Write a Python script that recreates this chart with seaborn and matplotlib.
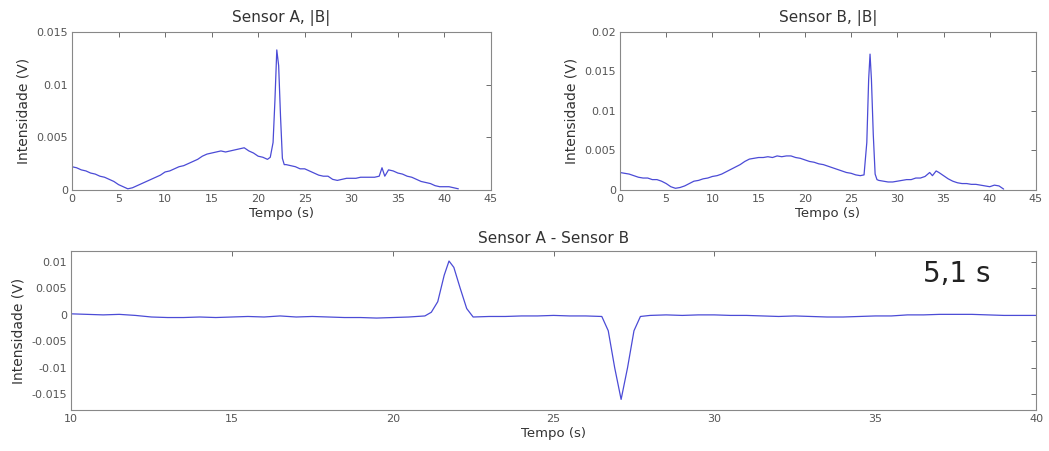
import pandas as pd
import matplotlib
matplotlib.use("Agg")
import matplotlib.pyplot as plt
import seaborn as sns

# Sensor A, |B|
tempo_a = [0, 0.5, 1, 1.5, 2, 2.5, 3, 3.5, 4, 4.5, 5, 5.5, 6, 6.5, 7, 7.5, 8, 8.5, 9, 9.5,
           10, 10.5, 11, 11.5, 12, 12.5, 13, 13.5, 14, 14.5, 15, 15.5, 16, 16.5, 17, 17.5,
           18, 18.5, 19, 19.5, 20, 20.5, 21, 21.3, 21.6, 21.8, 22.0, 22.2, 22.4, 22.6, 22.8,
           23, 23.5, 24, 24.5, 25, 25.5, 26, 26.5, 27, 27.5, 28, 28.5, 29, 29.5, 30, 30.5,
           31, 31.5, 32, 32.5, 33, 33.3, 33.6, 34, 34.5, 35, 35.5, 36, 36.5, 37, 37.5, 38,
           38.5, 39, 39.5, 40, 40.5, 41, 41.5]
sensor_a = [0.0022, 0.0021, 0.0019, 0.0018, 0.0016, 0.0015, 0.0013, 0.0012, 0.0010, 0.0008,
            0.0005, 0.0003, 0.0001, 0.0002, 0.0004, 0.0006, 0.0008, 0.0010, 0.0012, 0.0014,
            0.0017, 0.0018, 0.0020, 0.0022, 0.0023, 0.0025, 0.0027, 0.0029, 0.0032, 0.0034,
            0.0035, 0.0036, 0.0037, 0.0036, 0.0037, 0.0038, 0.0039, 0.0040, 0.0037, 0.0035,
            0.0032, 0.0031, 0.0029, 0.0031, 0.0045, 0.0085, 0.0133, 0.0118, 0.0070, 0.0030,
            0.0024, 0.0024, 0.0023, 0.0022, 0.0020, 0.0020, 0.0018, 0.0016, 0.0014, 0.0013,
            0.0013, 0.0010, 0.0009, 0.0010, 0.0011, 0.0011, 0.0011, 0.0012, 0.0012, 0.0012,
            0.0012, 0.0013, 0.0021, 0.0013, 0.0019, 0.0018, 0.0016, 0.0015, 0.0013, 0.0012,
            0.0010, 0.0008, 0.0007, 0.0006, 0.0004, 0.0003, 0.0003, 0.0003, 0.0002, 0.0001]

# Sensor B, |B|
tempo_b = [0, 0.5, 1, 1.5, 2, 2.5, 3, 3.5, 4, 4.5, 5, 5.5, 6, 6.5, 7, 7.5, 8, 8.5, 9, 9.5,
           10, 10.5, 11, 11.5, 12, 12.5, 13, 13.5, 14, 14.5, 15, 15.5, 16, 16.5, 17, 17.5,
           18, 18.5, 19, 19.5, 20, 20.5, 21, 21.5, 22, 22.5, 23, 23.5, 24, 24.5, 25, 25.5,
           26, 26.4, 26.7, 26.9, 27.05, 27.2, 27.4, 27.6, 27.8, 28, 28.5, 29, 29.5, 30, 30.5,
           31, 31.5, 32, 32.5, 33, 33.5, 33.8, 34.2, 34.5, 35, 35.5, 36, 36.5, 37, 37.5, 38,
           38.5, 39, 39.5, 40, 40.5, 41, 41.5]
sensor_b = [0.0022, 0.0021, 0.0020, 0.0018, 0.0016, 0.0015, 0.0015, 0.0013, 0.0013, 0.0011,
            0.0008, 0.0004, 0.0002, 0.0003, 0.0005, 0.0008, 0.0011, 0.0012, 0.0014, 0.0015,
            0.0017, 0.0018, 0.0020, 0.0023, 0.0026, 0.0029, 0.0032, 0.0036, 0.0039, 0.0040,
            0.0041, 0.0041, 0.0042, 0.0041, 0.0043, 0.0042, 0.0043, 0.0043, 0.0041, 0.0040,
            0.0038, 0.0036, 0.0035, 0.0033, 0.0032, 0.0030, 0.0028, 0.0026, 0.0024, 0.0022,
            0.0021, 0.0019, 0.0018, 0.0019, 0.0060, 0.0140, 0.0172, 0.0140, 0.0070, 0.0020,
            0.0013, 0.0012, 0.0011, 0.0010, 0.0010, 0.0011, 0.0012, 0.0013, 0.0013, 0.0015,
            0.0015, 0.0017, 0.0022, 0.0018, 0.0024, 0.0022, 0.0018, 0.0014, 0.0011, 0.0009,
            0.0008, 0.0008, 0.0007, 0.0007, 0.0006, 0.0005, 0.0004, 0.0006, 0.0005, 0.0001]

# Sensor A - Sensor B
tempo_d = [10, 10.5, 11, 11.5, 12, 12.5, 13, 13.5, 14, 14.5, 15, 15.5, 16, 16.5, 17, 17.5,
           18, 18.5, 19, 19.5, 20, 20.5, 21, 21.2, 21.4, 21.6, 21.75, 21.9, 22.1, 22.3, 22.5,
           23, 23.5, 24, 24.5, 25, 25.5, 26, 26.5, 26.7, 26.9, 27.1, 27.3, 27.5, 27.7, 28,
           28.5, 29, 29.5, 30, 30.5, 31, 31.5, 32, 32.5, 33, 33.5, 34, 34.5, 35, 35.5, 36,
           36.5, 37, 37.5, 38, 38.5, 39, 39.5, 40]
diferenca = [0.0002, 0.0001, 0.0000, 0.0001, -0.0001, -0.0004, -0.0005, -0.0005, -0.0004,
             -0.0005, -0.0004, -0.0003, -0.0004, -0.0002, -0.0004, -0.0003, -0.0004, -0.0005,
             -0.0005, -0.0006, -0.0005, -0.0004, -0.0002, 0.0005, 0.0025, 0.0075, 0.0102,
             0.0090, 0.0050, 0.0012, -0.0004, -0.0003, -0.0003, -0.0002, -0.0002, -0.0001,
             -0.0002, -0.0002, -0.0003, -0.0030, -0.0100, -0.0160, -0.0100, -0.0030, -0.0003,
             -0.0001, 0.0000, -0.0001, 0.0000, 0.0000, -0.0001, -0.0001, -0.0002, -0.0003,
             -0.0002, -0.0003, -0.0004, -0.0004, -0.0003, -0.0002, -0.0002, 0.0000, 0.0000,
             0.0001, 0.0001, 0.0001, 0.0000, -0.0001, -0.0001, -0.0001]

# eixos
ticks_a = [0, 0.005, 0.01, 0.015]
labels_a = ["0", "0.005", "0.01", "0.015"]
ticks_b = [0, 0.005, 0.01, 0.015, 0.02]
labels_b = ["0", "0.005", "0.01", "0.015", "0.02"]
ticks_d = [-0.015, -0.01, -0.005, 0, 0.005, 0.01]
labels_d = ["-0.015", "-0.01", "-0.005", "0", "0.005", "0.01"]

sns.set_style("white")
plt.rcParams['font.family'] = ['DejaVu Sans']

cor = '#4b4bd6'
fig = plt.figure(figsize=(10.49, 4.51), dpi=100)
ax1 = fig.add_axes([0.0686, 0.579, 0.3994, 0.350])
ax2 = fig.add_axes([0.591, 0.579, 0.3966, 0.350])
ax3 = fig.add_axes([0.0677, 0.091, 0.920, 0.3525])

df_a = pd.DataFrame({'t': tempo_a, 'v': sensor_a})
df_b = pd.DataFrame({'t': tempo_b, 'v': sensor_b})
df_d = pd.DataFrame({'t': tempo_d, 'v': diferenca})

sns.lineplot(data=df_a, x='t', y='v', ax=ax1, color=cor, linewidth=0.9)
sns.lineplot(data=df_b, x='t', y='v', ax=ax2, color=cor, linewidth=0.9)
sns.lineplot(data=df_d, x='t', y='v', ax=ax3, color=cor, linewidth=0.9)

ax1.set_xlim(0, 45)
ax1.set_ylim(0, 0.015)
ax1.set_xticks(range(0, 46, 5))
ax1.set_yticks(ticks_a)
ax1.set_yticklabels(labels_a)
ax1.set_title("Sensor A, |B|", fontsize=11, pad=7, color='#333333')

ax2.set_xlim(0, 45)
ax2.set_ylim(0, 0.02)
ax2.set_xticks(range(0, 46, 5))
ax2.set_yticks(ticks_b)
ax2.set_yticklabels(labels_b)
ax2.set_title("Sensor B, |B|", fontsize=11, pad=7, color='#333333')

ax3.set_xlim(10, 40)
ax3.set_ylim(-0.018, 0.0121)
ax3.set_xticks(range(10, 41, 5))
ax3.set_yticks(ticks_d)
ax3.set_yticklabels(labels_d)
ax3.set_title("Sensor A - Sensor B", fontsize=11, pad=6, color='#333333')
ax3.text(0.918, 0.855, "5,1 s", transform=ax3.transAxes, fontsize=20,
         ha='center', va='center', color='#222222')

for ax in (ax1, ax2, ax3):
    ax.set_xlabel("Tempo (s)", fontsize=9.5, labelpad=2, color='#333333')
    ax.set_ylabel("Intensidade (V)", fontsize=10, labelpad=4, color='#333333')
    ax.tick_params(direction='in', top=True, right=True, length=3.5, width=0.6,
                   labelsize=8, pad=3, colors='#555555')
    for s in ax.spines.values():
        s.set_color('#888888')
        s.set_linewidth(0.8)

fig.savefig("out.png", dpi=100)
